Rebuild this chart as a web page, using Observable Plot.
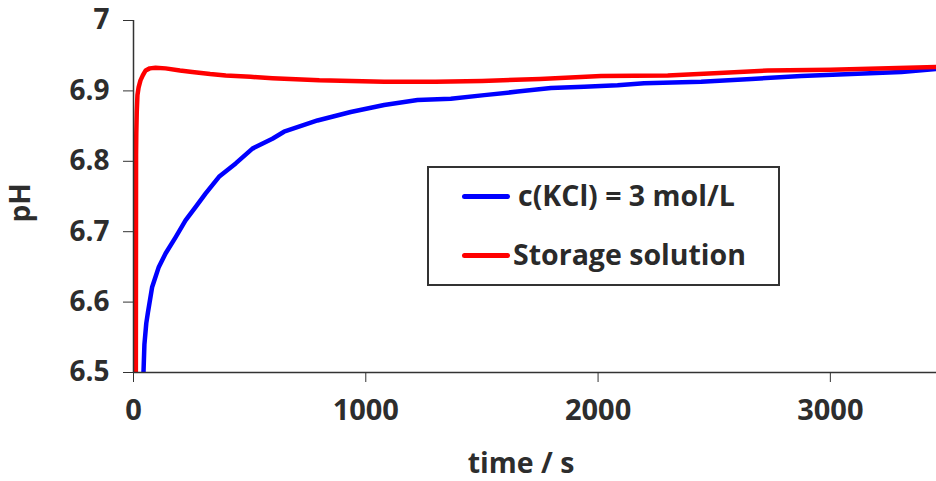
<!DOCTYPE html>
<html>
<head>
<meta charset="utf-8">
<script src="https://cdn.jsdelivr.net/npm/d3@7"></script>
<script src="https://cdn.jsdelivr.net/npm/@observablehq/plot@0.6"></script>
<style>
  html, body { margin: 0; padding: 0; background: #fff; }
  #wrap { position: relative; width: 936px; height: 481px; font-family: "Open Sans", sans-serif; }
  #legend { position: absolute; left: 427px; top: 166px; width: 349px; height: 116px;
    border: 2px solid #333; box-sizing: content-box; }
  .entry { position: absolute; font-weight: 700; font-size: 28.5px; color: #2a2a2a; white-space: nowrap; line-height: 36px; }
  .sw { position: absolute; width: 48px; height: 5px; border-radius: 3px; }
</style>
</head>
<body>
<div id="wrap"></div>
<script>
const seriesNames = ["c(KCl) = 3 mol/L", "Storage solution"];
const seriesColors = ["#0000ff", "#ff0000"];
const xTicks = [0, 1000, 2000, 3000];
const yTicks = [6.5, 6.6, 6.7, 6.8, 6.9, 7];

const kclTime = [40, 43, 47, 55, 62, 80, 109, 138, 181, 224, 267, 310, 368, 440, 512, 598, 648, 792, 935, 1079, 1223, 1366, 1510, 1654, 1797, 1940, 2084, 2198, 2444, 2660, 2875, 3090, 3306, 3457];
const kclPH   = [6.47, 6.50, 6.54, 6.57, 6.585, 6.621, 6.650, 6.669, 6.692, 6.716, 6.735, 6.754, 6.778, 6.797, 6.818, 6.832, 6.842, 6.858, 6.870, 6.880, 6.887, 6.889, 6.894, 6.899, 6.904, 6.906, 6.908, 6.911, 6.913, 6.917, 6.921, 6.924, 6.927, 6.931];

const storTime = [10, 11, 12, 14, 17, 22, 30, 40, 52, 70, 95, 138, 200, 253, 330, 397, 504, 598, 800, 1079, 1300, 1500, 1750, 2013, 2300, 2500, 2731, 3000, 3250, 3457];
const storPH   = [6.45, 6.81, 6.84, 6.87, 6.894, 6.905, 6.915, 6.922, 6.929, 6.932, 6.933, 6.932, 6.929, 6.927, 6.924, 6.922, 6.920, 6.918, 6.915, 6.913, 6.913, 6.914, 6.917, 6.921, 6.922, 6.925, 6.929, 6.930, 6.932, 6.934];

const data = [
  ...kclTime.map((t, i) => ({t, pH: kclPH[i], s: seriesNames[0]})),
  ...storTime.map((t, i) => ({t, pH: storPH[i], s: seriesNames[1]}))
];

const font = "'Open Sans', sans-serif";
const chart = Plot.plot({
  width: 936,
  height: 481,
  marginLeft: 133,
  marginRight: 0,
  marginTop: 20,
  marginBottom: 109,
  style: {fontFamily: font, background: "#fff", overflow: "visible", fontSize: "28px"},
  x: {domain: [0, 3457]},
  y: {domain: [6.5, 7]},
  color: {domain: seriesNames, range: seriesColors},
  marks: [
    Plot.line(data, {x: "t", y: "pH", z: "s", stroke: "s", strokeWidth: 4.5, clip: true, curve: "linear"}),
    Plot.ruleX([0], {stroke: "#333", strokeWidth: 1.5}),
    Plot.ruleY([6.5], {stroke: "#333", strokeWidth: 1.5}),
    Plot.axisY({ticks: yTicks, tickSize: 10, tickPadding: 14, tickFormat: d => String(+d.toFixed(1)),
      fontSize: 28, fontWeight: 700, fill: "#2d2d2d", stroke: "#333", label: null}),
    Plot.axisX({ticks: xTicks, tickSize: 10, tickPadding: 17, tickFormat: d => String(d),
      fontSize: 29, fontWeight: 700, fill: "#2d2d2d", stroke: "#333", label: null}),
    Plot.text(["time / s"], {frameAnchor: "bottom", dy: 100, dx: -14, fontSize: 28.5, fontWeight: 700, fill: "#2d2d2d", fontFamily: font}),
    Plot.text(["pH"], {frameAnchor: "left", dx: -112, dy: 26, rotate: -90, fontSize: 28, fontWeight: 700, fill: "#2d2d2d", fontFamily: font})
  ]
});
chart.querySelectorAll("text").forEach(t => t.setAttribute("font-weight", "700"));
const wrap = document.getElementById("wrap");
wrap.appendChild(chart);

const legend = document.createElement("div");
legend.id = "legend";
wrap.appendChild(legend);
const entries = [
  {sx: 462, sy: 194, tx: 518, ty: 177},
  {sx: 462, sy: 253, tx: 513, ty: 236}
];
seriesNames.forEach((name, i) => {
  const e = entries[i];
  const sw = document.createElement("div");
  sw.className = "sw";
  sw.style.left = e.sx + "px"; sw.style.top = e.sy + "px";
  sw.style.background = seriesColors[i];
  wrap.appendChild(sw);
  const tx = document.createElement("div");
  tx.className = "entry";
  tx.style.left = e.tx + "px"; tx.style.top = e.ty + "px";
  tx.textContent = name;
  wrap.appendChild(tx);
});
</script>
</body>
</html>
